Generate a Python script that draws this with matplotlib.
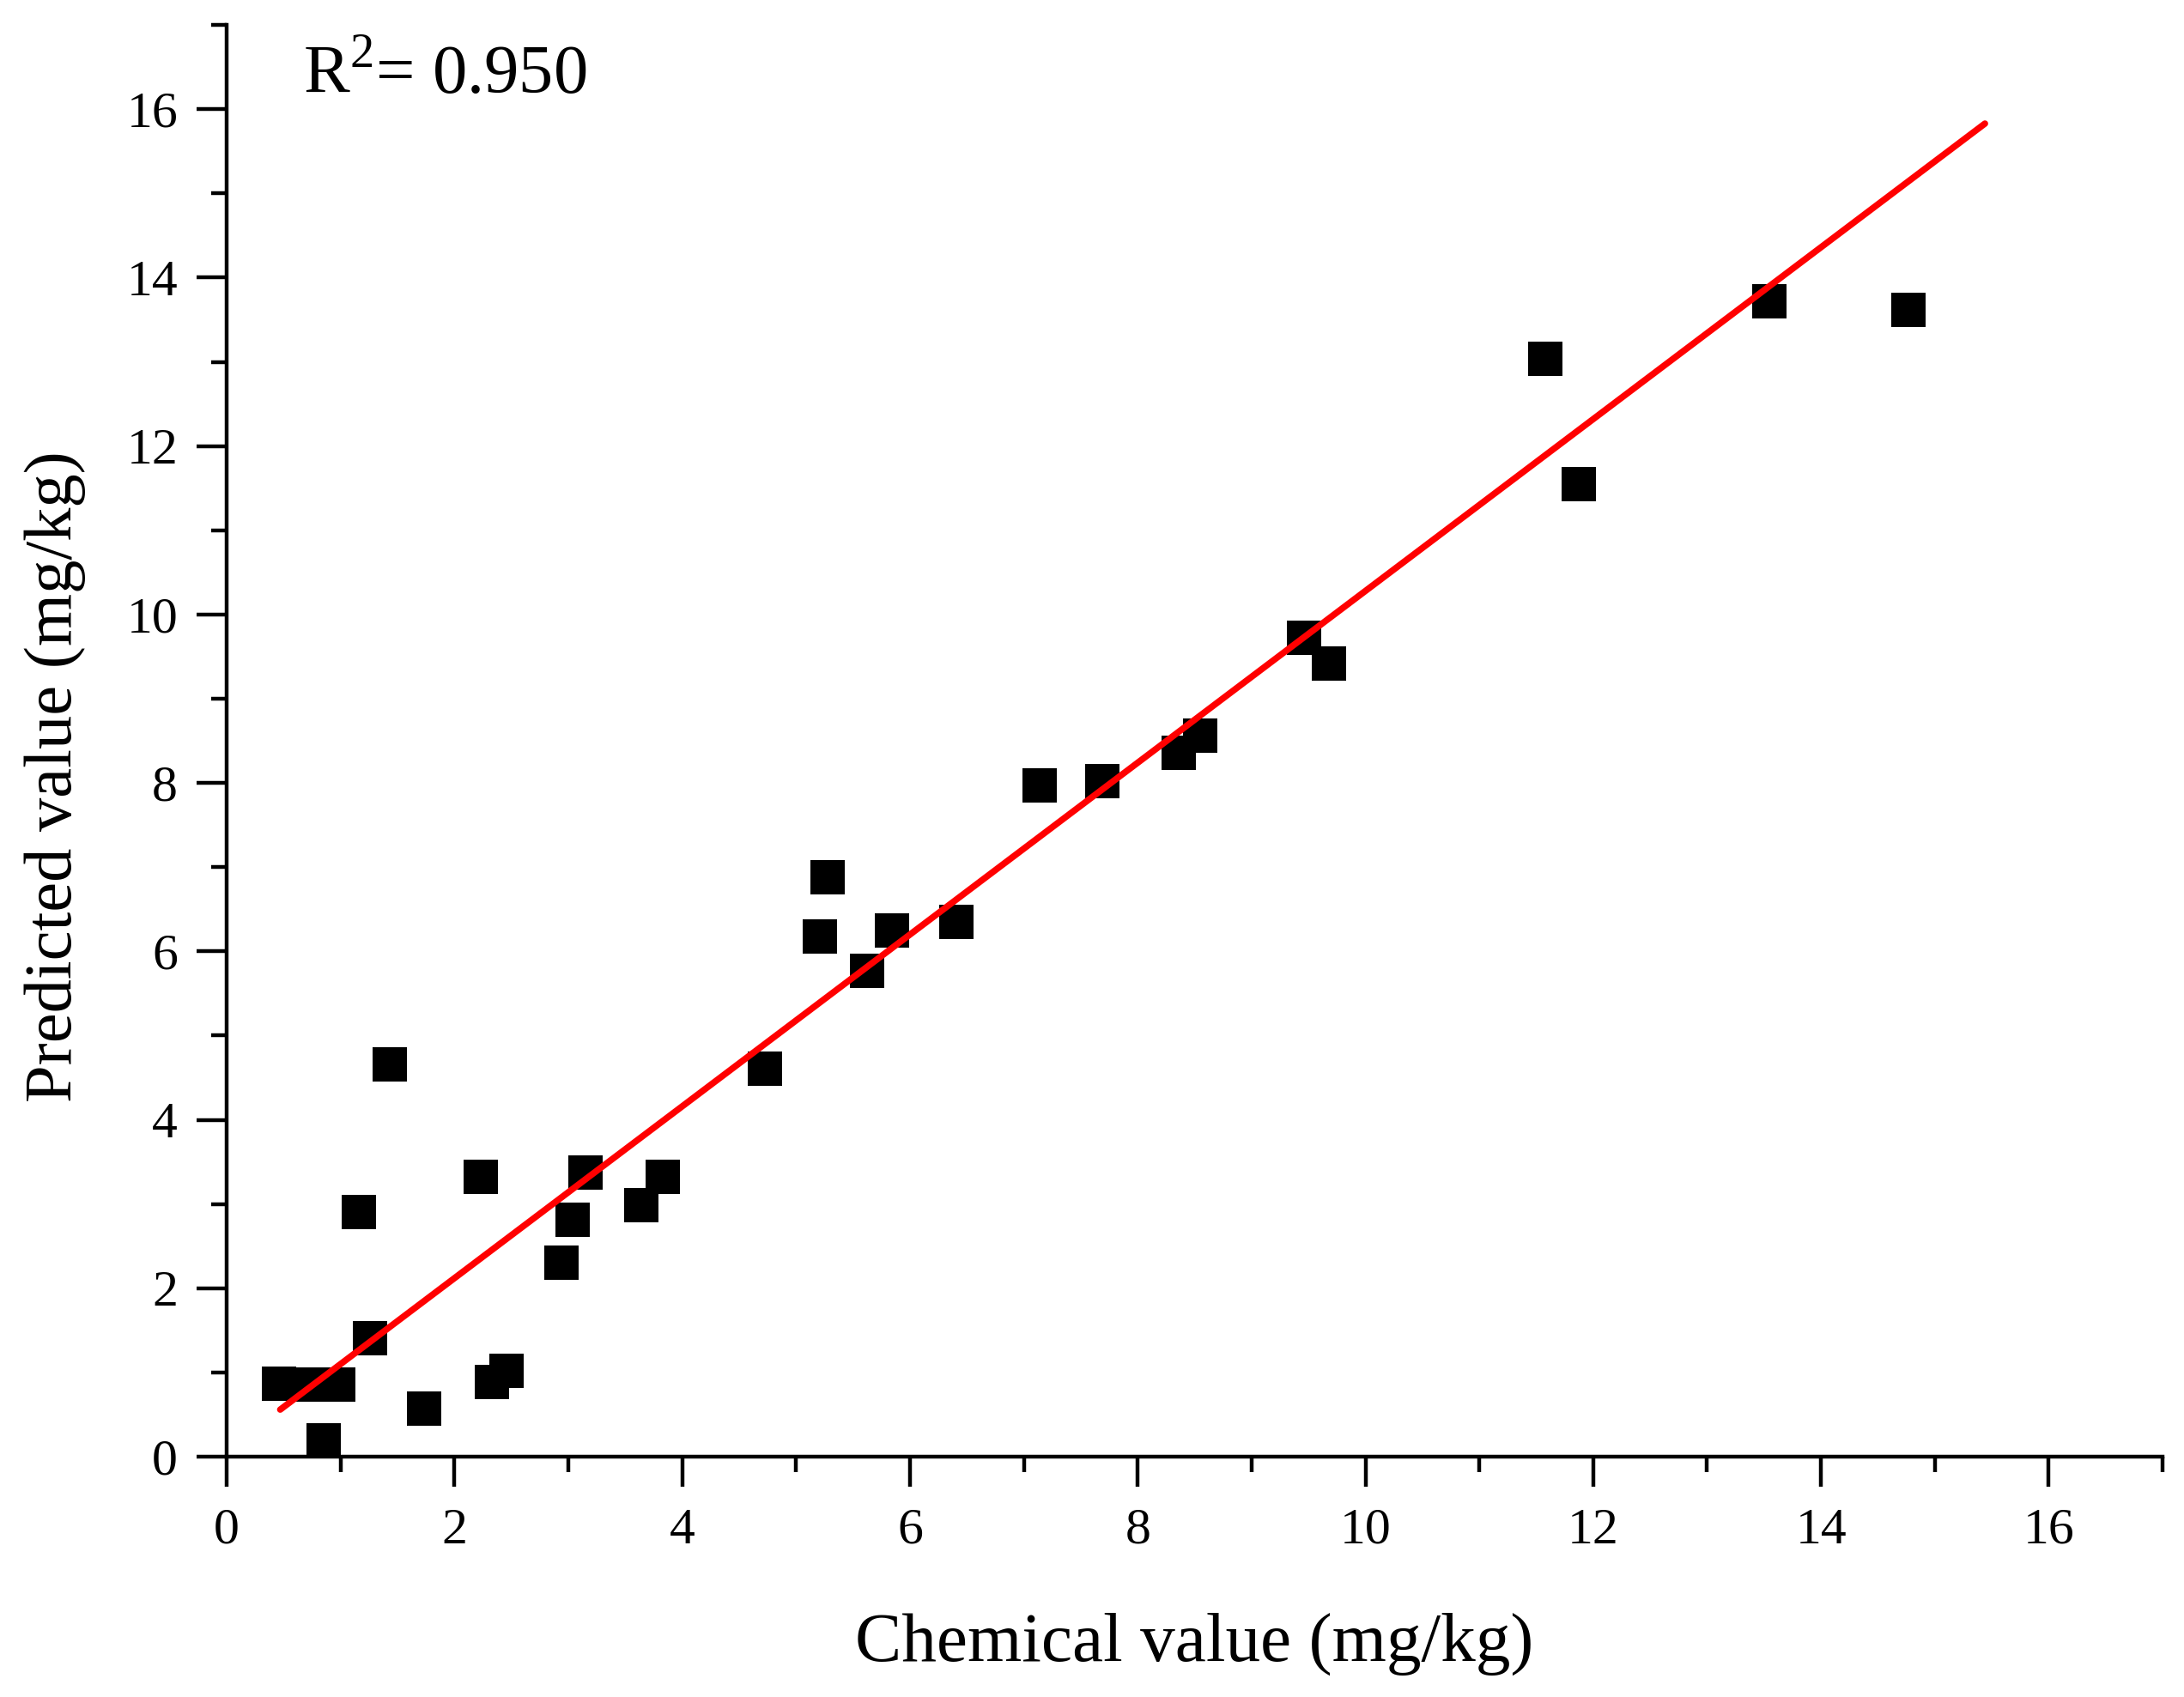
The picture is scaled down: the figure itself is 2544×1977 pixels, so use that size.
import numpy as np
import matplotlib
matplotlib.use("Agg")
import matplotlib.pyplot as plt
from matplotlib.ticker import MultipleLocator

# Data
chemical = [0.46, 0.70, 0.98, 0.85, 1.26, 1.16, 1.43, 1.73, 2.23, 2.33, 2.46,
            2.94, 3.04, 3.15, 3.64, 3.83, 4.73, 5.21, 5.28, 5.62, 5.84, 6.41,
            7.14, 7.69, 8.36, 8.55, 9.46, 9.68, 11.58, 11.87, 13.55, 14.77]
predicted = [0.87, 0.86, 0.86, 0.19, 1.41, 2.91, 4.66, 0.57, 3.32, 0.89, 1.02,
             2.30, 2.81, 3.37, 2.99, 3.32, 4.61, 6.18, 6.88, 5.77, 6.25, 6.35,
             7.97, 8.02, 8.36, 8.56, 9.72, 9.42, 13.04, 11.55, 13.72, 13.62]
# fitted line as drawn in the reference (slope, intercept, x range)
fit_slope = 1.020
fit_intercept = 0.08
fit_x_range = [0.47, 15.44]
r2_text = "0.950"
x_label = "Chemical value (mg/kg)"
y_label = "Predicted value (mg/kg)"
x_ticks = [0, 2, 4, 6, 8, 10, 12, 14, 16]
y_ticks = [0, 2, 4, 6, 8, 10, 12, 14, 16]

plt.rcParams['font.family'] = ['Liberation Serif', 'DejaVu Serif']
plt.rcParams['mathtext.fontset'] = 'custom'
plt.rcParams['mathtext.rm'] = 'Liberation Serif'

fig = plt.figure(figsize=(25.44, 19.77), dpi=100)
ax = fig.add_axes([0.1038, 0.1416, 0.8864, 0.8437])

x = np.array(chemical)
y = np.array(predicted)
ax.scatter(x, y, marker='s', s=28.5**2, color='black', linewidths=0, zorder=3)

xl = np.array(fit_x_range)
ax.plot(xl, fit_slope * xl + fit_intercept, color='#ff0000', lw=5.4,
        solid_capstyle='round', zorder=4)

ax.set_xlim(0, 17)
ax.set_ylim(0, 17)
ax.set_xticks(x_ticks)
ax.set_yticks(y_ticks)
ax.xaxis.set_minor_locator(MultipleLocator(1))
ax.yaxis.set_minor_locator(MultipleLocator(1))

for s in ['top', 'right']:
    ax.spines[s].set_visible(False)
for s in ['left', 'bottom']:
    ax.spines[s].set_linewidth(3.2)
    ax.spines[s].set_capstyle('projecting')

ax.tick_params(which='major', direction='out', length=25, width=3.2,
               labelsize=43)
ax.tick_params(axis='x', which='major', pad=18)
ax.tick_params(axis='y', which='major', pad=16)
ax.tick_params(which='minor', direction='out', length=13, width=3.2)

ax.set_xlabel(x_label, fontsize=58.5)
ax.set_ylabel(y_label, fontsize=56.5)
ax.xaxis.set_label_coords(0.5, -0.131)
ax.xaxis.label.set_verticalalignment('center')
ax.yaxis.set_label_coords(-0.0887, 0.475)
ax.yaxis.label.set_verticalalignment('center')

ax.text(0.0395, 0.952, r"R$^{2}$= " + r2_text, transform=ax.transAxes,
        fontsize=58, ha='left', va='baseline')

fig.savefig("out.png", dpi=100, facecolor='white')
